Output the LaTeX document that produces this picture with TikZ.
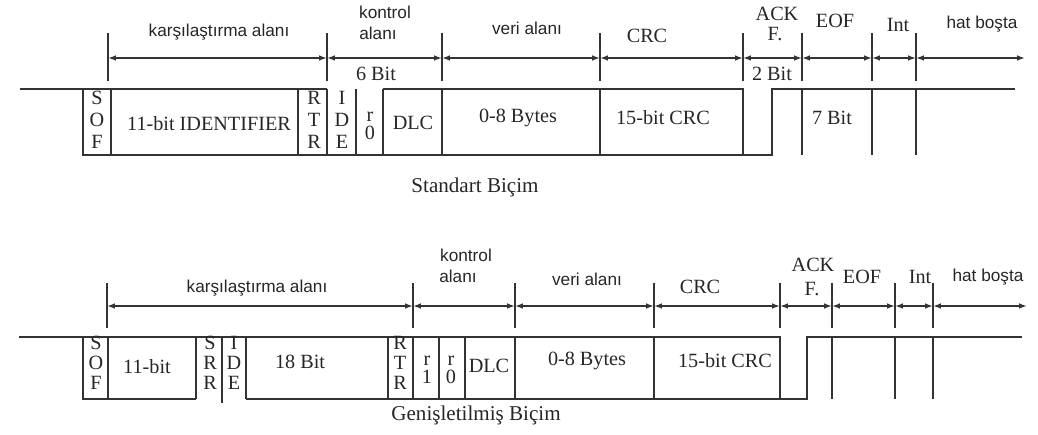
\documentclass[tikz,border=0pt]{standalone}
\usepackage{fontspec}
\setmainfont{Liberation Serif}
\setsansfont{Liberation Sans}
\usetikzlibrary{arrows.meta}

\begin{document}
\begin{tikzpicture}[>={Latex[length=4.5pt,width=3.2pt]}, x=0.02cm, y=-0.02cm,
    sig/.style={draw=black!80, line width=0.9pt},
    fieldtxt/.style={font=\fontsize{11.5}{12}\selectfont, text=black!85, inner sep=0pt},
    areatxt/.style={font=\sffamily\fontsize{9.8}{10}\selectfont, text=black!85, inner sep=0pt},
    bitcol/.style={fieldtxt, align=center, font=\fontsize{11.5}{12.5}\selectfont},
    bitcolB/.style={fieldtxt, align=center, font=\fontsize{11.5}{11.3}\selectfont},
    rcol/.style={fieldtxt, align=center, font=\fontsize{11.5}{10.5}\selectfont}]
    \useasboundingbox (0,0) rectangle (1038,435);

    % Standart frame
    \draw[sig] (20,89) -| (83,155) -- (772,155) |- (1015,89);
    \draw[sig] (83,89) -- (327,89);
    \draw[sig] (383,89) -- (743,89) -- (743,155);
    \foreach \x in {111,298,327,356,383,442,600,802,872,916}
        \draw[sig] (\x,89) -- (\x,155);

    \foreach \x [count=\i] in {108,327,442,600,743,802,872,916} {
        \coordinate (ta\i) at (\x,58);
        \draw[sig] (\x,33) -- (\x,81);
    }
    \coordinate (taEnd) at (1025,58);
    \foreach \a/\b in {1/2,2/3,3/4,4/5,5/6,6/7,7/8}
        \draw[sig,<->] (ta\a) -- (ta\b);
    \draw[sig,<->] (ta8) -- (taEnd);

    \node[areatxt] (cmpA) at (219,32) {karşılaştırma alanı};
    \node[areatxt] (ctlA) at (385,12) {kontrol};
    \node[areatxt] (ctlA2) at (378,33) {alanı};
    \node[fieldtxt] (ctlBitA) at (376,74) {6 Bit};
    \node[areatxt] (datA) at (527,28) {veri alanı};
    \node[fieldtxt] (crcA) at (647,36) {CRC};
    \node[fieldtxt] (ackA) at (777,14) {ACK};
    \node[fieldtxt] (ackA2) at (775,34) {F.};
    \node[fieldtxt] (ackBitA) at (772,74) {2 Bit};
    \node[fieldtxt] (eofA) at (835,21) {EOF};
    \node[fieldtxt] (intA) at (898,25) {Int};
    \node[areatxt] (idleA) at (982,24) {hat boşta};

    \node[bitcol] (sofA) at (97,120) {S\\O\\F};
    \node[fieldtxt] (idA) at (209,124) {11-bit IDENTIFIER};
    \node[bitcol] (rtrA) at (314,120) {R\\T\\R};
    \node[bitcol] (ideA) at (342,120) {I\\D\\E};
    \node[rcol] (rzA) at (370,126) {r\\0};
    \node[fieldtxt] (dlcA) at (413,123) {DLC};
    \node[fieldtxt] (bytA) at (518,118) {0-8 Bytes};
    \node[fieldtxt] (crcbA) at (663,118) {15-bit CRC};
    \node[fieldtxt] (eofbA) at (832,118) {7 Bit};
    \node[fieldtxt, font=\fontsize{12}{12}\selectfont] (titA) at (475,187) {Standart Biçim};

    % Genisletilmis frame
    \draw[sig] (19,337) -| (83,399) -- (196,399);
    \draw[sig] (246,399) -- (807,399) |- (1022,337);
    \draw[sig] (83,337) -- (780,337) -- (780,399);
    \draw[sig] (222,337) -- (222,403);
    \foreach \x in {108,196,246,388,413,439,465,515,654,832,895,933}
        \draw[sig] (\x,337) -- (\x,399);

    \foreach \x [count=\i] in {107,413,515,654,780,832,895,933} {
        \coordinate (tb\i) at (\x,306);
        \draw[sig] (\x,283) -- (\x,328);
    }
    \coordinate (tbEnd) at (1027,306);
    \foreach \a/\b in {1/2,2/3,3/4,4/5,5/6,6/7,7/8}
        \draw[sig,<->] (tb\a) -- (tb\b);
    \draw[sig,<->] (tb8) -- (tbEnd);

    \node[areatxt] (cmpB) at (257,288) {karşılaştırma alanı};
    \node[areatxt] (ctlB) at (466,255) {kontrol};
    \node[areatxt] (ctlB2) at (458,276) {alanı};
    \node[areatxt] (datB) at (587,279) {veri alanı};
    \node[fieldtxt] (crcB) at (700,287) {CRC};
    \node[fieldtxt] (ackB) at (813,265) {ACK};
    \node[fieldtxt] (ackB2) at (812,289) {F.};
    \node[fieldtxt] (eofB) at (862,277) {EOF};
    \node[fieldtxt] (intB) at (920,277) {Int};
    \node[areatxt] (idleB) at (988,277) {hat boşta};

    \node[bitcolB] (sofB) at (96,363) {S\\O\\F};
    \node[fieldtxt] (idB) at (147,367) {11-bit};
    \node[bitcolB] (srrB) at (210,363) {S\\R\\R};
    \node[bitcolB] (ideB) at (234,363) {I\\D\\E};
    \node[fieldtxt] (extB) at (300,362) {18 Bit};
    \node[bitcolB] (rtrB) at (400,363) {R\\T\\R};
    \node[rcol] (r1B) at (427,370) {r\\1};
    \node[rcol] (r0B) at (451,370) {r\\0};
    \node[fieldtxt] (dlcB) at (489,366) {DLC};
    \node[fieldtxt] (bytB) at (587,361) {0-8 Bytes};
    \node[fieldtxt] (crcbB) at (725,361) {15-bit CRC};
    \node[fieldtxt, font=\fontsize{12}{12}\selectfont] (titB) at (476,415) {Genişletilmiş Biçim};
\end{tikzpicture}
\end{document}
